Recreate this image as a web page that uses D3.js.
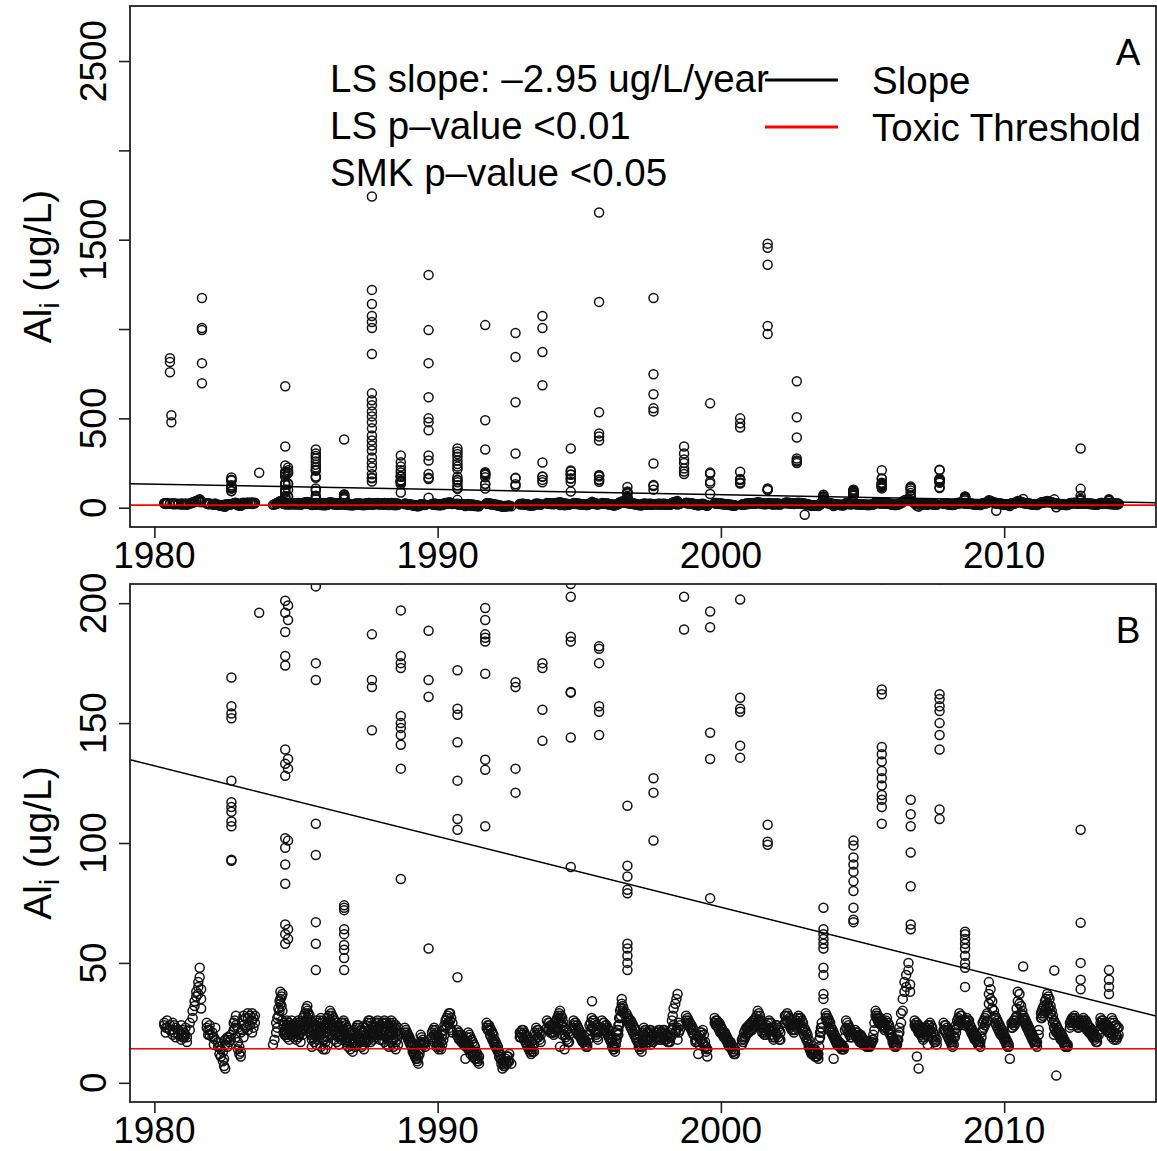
<!DOCTYPE html>
<html><head><meta charset="utf-8">
<script src="https://cdn.jsdelivr.net/npm/d3@7"></script>
<style>body{margin:0;background:#fff}svg{display:block}text{font-family:"Liberation Sans",Arial,Helvetica,sans-serif}</style>
</head><body>
<svg id="chart" width="1157" height="1151"></svg>
<script>
// ---------- data ----------
const xDomain = [1979.14, 2015.36];
const yDomainA = [-108, 2808];
const yDomainB = [-8, 208];
const xTicks = [1980, 1990, 2000, 2010];
const yTicksA = [0, 500, 1000, 1500, 2000, 2500];
const yTickLabelsA = ["0", "500", "", "1500", "", "2500"];
const yTicksB = [0, 50, 100, 150, 200];
const lsSlope = -2.95;      // ug/L per year
const lsAt1980 = 132.2;     // fitted value at 1980
const toxicThreshold = 14.2;
const legendText = ["LS slope: \u20132.95 ug/L/year", "LS p\u2013value <0.01", "SMK p\u2013value <0.05"];
const legendKeys = ["Slope", "Toxic Threshold"];
const panelLetters = ["A", "B"];

// baseline samples: [year, values...]
const baseline = [
[1980.35,25,24],[1980.45,26,23],[1980.55,24,22],[1980.65,25,22,20],[1980.75,23,19],[1980.85,22,20],[1980.95,24,20,18],[1981.05,21,19],[1981.15,19,17],
[1981.25,25,22],[1981.35,30,27],[1981.42,34,32],[1981.48,38,36],[1981.55,42,40,37],[1981.6,48,44],[1981.65,39,35,31],
[1981.85,25,23],[1981.95,24,22,20],[1982.05,21,19],[1982.15,23,18],[1982.25,17,15],[1982.35,14,11],[1982.42,9,13],[1982.5,6,16,18],[1982.58,18,19,15],
[1982.7,18,20],[1982.8,22,25],[1982.88,24,28,19],[1982.95,23,17,14],[1983.05,13,11,21],[1983.15,28,24,19],[1983.3,29,27,22],[1983.45,29,26,21],[1983.55,28,25],
[1984.19,16],[1984.3,21,25],[1984.38,28,31],[1984.45,33,35,38],[1984.52,37,30,26],
[1984.6,25,22,20],[1984.68,26,24,21,19],[1984.76,25,23,20,18],[1984.84,26,22,20],[1984.92,24,21,19],[1985.0,25,23,21,18],[1985.08,26,22,19],[1985.16,24,21,17],
[1985.24,27,23,20],[1985.32,29,25,22],[1985.4,32,30,27,24],[1985.48,28,25,21],[1985.56,25,22,18,15],[1985.64,24,20,17],[1985.72,26,22,19,16],[1985.8,25,21,18],
[1985.88,27,23,20,15],[1985.96,26,22,18,14],[1986.04,24,21,17,14],[1986.12,27,23,19,16],[1986.2,30,26,22],[1986.28,28,24,20],[1986.36,26,22,18],[1986.44,25,21,17],
[1986.52,23,20,16],[1986.6,25,21,18],[1986.68,26,22,19],[1986.76,24,20,17],[1986.84,22,19,15],[1986.92,21,18,14],[1987.0,20,17,13],[1987.08,22,18,15],
[1987.16,24,20,16],[1987.24,23,19,17],[1987.32,22,18,15],[1987.4,21,17,14],[1987.48,24,20,17],[1987.56,26,22,18],[1987.64,25,21,17],[1987.72,23,20,18],
[1987.8,25,21,19],[1987.88,26,23,20],[1987.96,24,21,18],[1988.04,25,22,18],[1988.12,26,22,17],[1988.2,25,21,16],[1988.28,24,19,15],
[1988.36,26,23,20,17],[1988.44,25,22,18,15],[1988.52,24,21,17,14],[1988.6,23,20,16],
[1988.84,23,21],[1988.92,21,19],[1989.0,19,17],[1989.08,17,15],[1989.16,14,12],[1989.24,12,10],[1989.32,8,11,14],[1989.4,14,17,20],[1989.48,18,16],[1989.56,17,15],
[1989.8,21,19],[1989.88,23,20,17],[1989.96,21,17,15],[1990.04,19,16,14],[1990.12,17,14],[1990.2,22,18],[1990.28,26,23],[1990.36,28,25],[1990.44,29,26,23],[1990.52,25,21],
[1990.68,22,20],[1990.76,21,18],[1990.84,20,17],[1990.92,18,16],[1990.98,10],[1991.0,17,15],[1991.08,21,16,14],[1991.16,19,14,12],[1991.24,17,13,11],[1991.32,15,12,10],[1991.4,12,9],[1991.46,8,11],
[1991.73,25,23],[1991.81,24,22],[1991.89,22,19],[1991.97,20,17],[1992.05,17,15],[1992.13,15,13],[1992.21,12,10],[1992.29,9,6],[1992.37,9,7],[1992.45,11,8],[1992.53,12,9],[1992.6,8],
[1992.9,21,19],[1992.98,22,20],[1993.06,21,18],[1993.14,19,16],[1993.22,17,14],[1993.3,14,12],[1993.4,16,13],[1993.48,23,20],[1993.56,22,19],[1993.64,20,17],
[1993.86,26,23],[1993.94,25,22],[1994.02,24,21],[1994.1,23,20],[1994.18,26,22],[1994.26,28,25],[1994.32,30,27,15],[1994.4,27,24,20],[1994.48,23,20,14],[1994.56,22,18],[1994.64,20,17],
[1994.8,26,24],[1994.88,25,22],[1994.96,23,20],[1995.04,21,19],[1995.12,19,17],[1995.2,18,16],[1995.28,16,15],[1995.36,24,20],[1995.44,27,23],[1995.52,26,22],[1995.6,24,20],[1995.66,21,18],
[1995.8,26,23],[1995.88,25,22],[1995.96,24,21],[1996.04,22,19],[1996.12,19,17],[1996.2,16,14],[1996.26,15,13],[1996.32,21,18],[1996.38,24,22,20],[1996.44,30,27],[1996.5,33,35],[1996.56,31,29],
[1996.66,29,27],[1996.74,27,25],[1996.82,26,23],[1996.9,24,21],[1996.98,22,19],[1997.06,19,17],[1997.14,16,14],[1997.2,13,15],
[1997.28,23,20,17],[1997.36,22,19,16],[1997.44,21,18],[1997.52,22,19,16],[1997.6,20,17],
[1997.72,21,18],[1997.8,22,19],[1997.88,21,18],[1997.96,22,19],[1998.04,21,18],[1998.12,20,17],[1998.2,19,17],
[1998.27,26,22],[1998.33,31,24],[1998.39,33,21],[1998.47,37,23,18],[1998.55,24,22],
[1998.77,28,26],[1998.86,26,24],[1998.96,24,22],[1999.04,22,20],
[1999.1,18,17],[1999.2,19,12],[1999.28,21,18],[1999.36,22,17],[1999.44,17,15],[1999.52,11,14],
[1999.78,27,25],[1999.86,26,24],[1999.94,25,22],[2000.02,23,21],[2000.1,21,19],[2000.18,20,18],[2000.26,18,16],[2000.34,17,15],[2000.42,15,13],[2000.5,12,14],
[2000.74,18,16],[2000.82,21,18],[2000.9,23,20],[2000.98,24,21],[2001.06,25,22],[2001.14,26,23],[2001.22,27,24],[2001.3,30,26],[2001.38,28,25],[2001.46,24,21],
[2001.54,22,20],[2001.62,24,21],[2001.7,26,23],[2001.78,25,20],[2001.86,22,18],[2001.94,24,21],[2002.02,23,19],[2002.1,21,18],
[2002.26,28,25],[2002.34,29,26],[2002.42,27,24],[2002.5,25,22],[2002.58,24,21],[2002.66,26,23],[2002.74,28,25],[2002.82,27,24],[2002.9,25,22],[2002.98,22,19],[2003.06,20,17],[2003.14,16,14],[2003.2,13,12],
[2003.28,14,12],[2003.36,13,11],[2003.44,12,10],[2003.5,21,19],[2003.56,25,23],[2003.98,10],
[2003.7,29,27],[2003.78,27,25],[2003.86,25,22],[2003.94,22,20],[2004.02,20,18],[2004.1,18,16],[2004.18,17,15],[2004.26,16,14],[2004.34,15,14],[2004.42,26,23],[2004.5,24,21],[2004.58,22,19],
[2004.74,22,20],[2004.82,21,19],[2004.9,20,17],[2004.98,19,17],[2005.06,18,16],[2005.14,17,15],[2005.22,16,15],[2005.3,17,16],[2005.38,20,18],
[2005.46,30,28],[2005.54,28,26],[2005.62,27,25],[2005.7,26,24],[2005.78,25,22],[2005.86,27,24],[2005.94,24,21],[2006.02,21,19],[2006.1,18,16],[2006.18,16,15],[2006.26,20,18],
[2006.36,29,25],[2006.42,35,30],[2006.48,42,38],[2006.54,45,40],[2006.62,50,47],[2006.68,41,38],
[2006.84,26,24],[2006.92,25,23,11],[2006.98,24,21,6],[2007.06,22,20],[2007.14,21,18],[2007.22,23,20],[2007.3,24,21,16],[2007.38,25,22],[2007.46,23,19],[2007.54,20,17],[2007.62,18,16],
[2007.86,25,22],[2007.94,24,21],[2008.02,22,19],[2008.1,20,17],[2008.18,17,15],[2008.26,22,19],[2008.34,26,23],[2008.42,29,26],[2008.5,28,25],
[2008.6,26,24],[2008.68,27,25],[2008.76,26,23],[2008.84,23,21],[2008.92,21,19],[2009.0,20,18],[2009.08,18,16],[2009.16,17,15],[2009.24,25,22],
[2009.32,27,24],[2009.4,29,26],[2009.46,37,33,42],[2009.52,39,35],[2009.58,34,31],[2009.64,30,27],[2009.72,27,24],[2009.8,25,22],[2009.88,23,20],[2009.96,21,19],[2010.04,19,17],[2010.12,17,15],[2010.2,10],
[2010.26,25,23],[2010.34,26,24],[2010.4,27,25],[2010.48,38,34],[2010.54,37,33],[2010.6,32,29],[2010.68,28,26],[2010.76,26,24],[2010.84,24,22],[2010.92,22,20],[2011.0,20,18],[2011.08,18,16],[2011.16,17,15],
[2011.3,29,27],[2011.36,31,28],[2011.44,34,30],[2011.52,37,33],[2011.6,35,31],[2011.68,30,27],[2011.76,26,23,20],[2011.84,24,21,3],[2011.92,22,20],[2012.0,21,18],[2012.08,19,17],[2012.16,17,15],[2012.24,16,15],
[2012.32,25,23],[2012.4,27,25],[2012.48,28,26],[2012.56,26,24],[2012.64,25,23],[2012.72,26,24],[2012.8,27,25],[2012.88,26,23],[2012.96,24,22],[2013.04,23,21],[2013.12,22,19],[2013.2,20,18],[2013.28,19,17],
[2013.4,27,25],[2013.48,26,24],[2013.56,25,23],[2013.64,24,22],[2013.72,23,21],[2013.8,27,22,19],[2013.88,25,21,18],[2013.96,24,20,18],[2014.04,23,20]
];

// extra baseline samples between the ones above: [year, values...]
const baselineMid = [
[1980.4,23,21],[1980.7,24,21],[1981.0,22,19],[1981.1,23,20],
[1981.9,22,20],[1982.1,19,16],[1982.3,15,12],[1982.46,10,7],[1982.64,17,19],[1982.84,23,26],[1983.0,15,12],[1983.1,26,22],[1983.22,27,23],[1983.38,28,24],[1983.5,27,23],
[1984.24,18],[1984.34,23,27],[1984.42,30,34],[1984.49,36,32],
[1984.56,24,21],[1984.64,23,20],[1984.72,25,22],[1984.8,24,21],[1984.88,23,20],[1984.96,24,22],[1985.04,24,21],[1985.12,25,20],[1985.2,25,22],[1985.28,28,24],[1985.36,31,26],[1985.44,29,23],
[1985.52,26,20],[1985.6,23,19],[1985.68,24,21],[1985.76,23,20],[1985.84,26,22],[1985.92,25,19],[1986.0,23,18],[1986.08,25,21],[1986.16,28,24],[1986.24,29,25],[1986.32,27,23],[1986.4,25,20],
[1986.48,24,19],[1986.56,24,19],[1986.64,25,20],[1986.72,25,21],[1986.8,23,18],[1986.88,21,17],[1986.96,20,16],[1987.04,21,16],[1987.12,23,19],[1987.2,24,18],[1987.28,22,17],[1987.36,21,16],
[1987.44,23,18],[1987.52,25,19],[1987.6,26,20],[1987.68,24,19],[1987.76,24,20],[1987.84,25,22],[1987.92,25,20],[1988.0,24,20],[1988.08,25,20],[1988.16,25,19],[1988.24,24,18],[1988.32,25,21],
[1988.4,24,20],[1988.48,23,19],[1988.56,22,18],
[1988.88,22,20],[1988.96,20,18],[1989.04,18,16],[1989.12,16,13],[1989.2,13,11],[1989.28,10,9],[1989.36,12,16],[1989.44,19,17],[1989.52,17,16],
[1989.84,22,18],[1989.92,22,19],[1990.0,20,16],[1990.08,18,15],[1990.16,20,16],[1990.24,24,20],[1990.32,27,24],[1990.4,29,25],[1990.48,27,22],
[1990.72,21,19],[1990.8,20,18],[1990.88,19,17],[1990.96,18,16],[1991.04,19,15],[1991.12,20,15],[1991.2,18,13],[1991.28,16,12],[1991.36,13,10],[1991.43,10,9],
[1991.77,24,22],[1991.85,23,20],[1991.93,21,18],[1992.01,18,16],[1992.09,16,14],[1992.17,13,11],[1992.25,10,8],[1992.33,8,7],[1992.41,10,8],[1992.49,11,9],
[1992.94,21,19],[1993.02,22,19],[1993.1,20,17],[1993.18,18,15],[1993.26,15,13],[1993.35,15,13],[1993.44,21,18],[1993.52,22,19],[1993.6,21,18],
[1993.9,25,22],[1993.98,24,21],[1994.06,24,21],[1994.14,25,21],[1994.22,27,23],[1994.29,29,26],[1994.36,28,25],[1994.44,25,22],[1994.52,22,19],[1994.6,21,17],
[1994.84,25,23],[1994.92,24,21],[1995.0,22,20],[1995.08,20,18],[1995.16,18,17],[1995.24,17,15],[1995.32,20,18],[1995.4,25,22],[1995.48,26,23],[1995.56,25,21],[1995.63,22,19],
[1995.84,25,22],[1995.92,24,22],[1996.0,23,20],[1996.08,20,18],[1996.16,18,15],[1996.23,15,14],[1996.29,18,16],[1996.35,22,20],[1996.41,27,24],[1996.47,31,28],[1996.53,32,30],
[1996.7,28,26],[1996.78,26,24],[1996.86,25,22],[1996.94,23,20],[1997.02,20,18],[1997.1,17,15],[1997.24,21,18],[1997.32,22,18],[1997.4,21,18],[1997.48,22,17],[1997.56,21,18],
[1997.76,21,19],[1997.84,22,18],[1997.92,21,19],[1998.0,22,18],[1998.08,20,18],[1998.16,19,17],[1998.24,22,19],[1998.3,28,23],[1998.43,35,22],[1998.51,25,21],
[1998.82,27,25],[1998.91,25,23],[1999.0,23,21],[1999.15,20,17],[1999.24,20,16],[1999.32,21,18],[1999.4,20,16],[1999.48,15,13],
[1999.82,26,24],[1999.9,25,23],[1999.98,24,21],[2000.06,22,20],[2000.14,21,19],[2000.22,19,17],[2000.3,17,15],[2000.38,16,14],[2000.46,13,12],
[2000.78,19,17],[2000.86,22,19],[2000.94,23,21],[2001.02,24,22],[2001.1,25,22],[2001.18,26,24],[2001.26,28,25],[2001.34,29,26],[2001.42,26,23],[2001.5,23,21],[2001.58,23,20],
[2001.66,25,22],[2001.74,25,22],[2001.82,23,19],[2001.9,23,19],[2001.98,24,20],[2002.06,22,18],
[2002.3,28,26],[2002.38,28,25],[2002.46,26,23],[2002.54,24,22],[2002.62,25,22],[2002.7,27,24],[2002.78,27,25],[2002.86,26,23],[2002.94,23,20],[2003.02,21,18],[2003.1,18,15],
[2003.17,14,13],[2003.24,13,12],[2003.32,14,11],[2003.4,12,11],[2003.47,18,15],[2003.53,23,21],
[2003.74,28,26],[2003.82,26,23],[2003.9,23,21],[2003.98,21,19],[2004.06,19,17],[2004.14,17,16],[2004.22,16,15],[2004.3,15,14],[2004.38,22,19],[2004.46,25,22],[2004.54,23,20],[2004.62,21,19],
[2004.78,21,19],[2004.86,20,18],[2004.94,20,17],[2005.02,18,16],[2005.1,17,16],[2005.18,16,15],[2005.26,16,15],[2005.34,18,17],[2005.42,25,22],
[2005.5,29,27],[2005.58,27,25],[2005.66,26,24],[2005.74,25,23],[2005.82,26,23],[2005.9,25,22],[2005.98,22,20],[2006.06,19,17],[2006.14,17,15],[2006.22,18,16],[2006.3,23,21],
[2006.88,25,23],[2006.95,24,22],[2007.02,23,21],[2007.1,21,19],[2007.18,22,19],[2007.26,23,20],[2007.34,24,22],[2007.42,24,21],[2007.5,21,18],[2007.58,19,17],
[2007.9,24,22],[2007.98,23,20],[2008.06,21,18],[2008.14,18,16],[2008.22,19,16],[2008.3,24,21],[2008.38,27,24],[2008.46,28,26],
[2008.64,26,24],[2008.72,26,24],[2008.8,24,22],[2008.88,22,20],[2008.96,20,18],[2009.04,19,17],[2009.12,17,16],[2009.2,21,19],[2009.28,26,23],[2009.36,28,25],
[2009.68,28,25],[2009.76,26,23],[2009.84,24,21],[2009.92,22,20],[2010.0,20,18],[2010.08,18,16],[2010.16,16,15],
[2010.3,25,23],[2010.37,26,24],[2010.44,31,28],[2010.64,30,27],[2010.72,27,25],[2010.8,25,23],[2010.88,23,21],[2010.96,21,19],[2011.04,19,17],[2011.12,17,16],[2011.22,22,20],
[2011.33,30,27],[2011.4,32,29],[2011.48,35,31],[2011.56,36,32],[2011.64,32,29],[2011.72,28,25],[2011.8,25,22],[2011.88,23,21],[2011.96,21,19],[2012.04,20,18],[2012.12,18,16],[2012.2,16,15],
[2012.36,26,24],[2012.44,27,25],[2012.52,27,25],[2012.6,25,23],[2012.68,25,24],[2012.76,26,24],[2012.84,26,24],[2012.92,25,22],[2013.0,23,21],[2013.08,22,20],[2013.16,21,19],[2013.24,19,17],[2013.34,22,20],
[2013.44,26,24],[2013.52,25,23],[2013.6,24,22],[2013.68,23,21],[2013.76,25,21],[2013.84,26,20],[2013.92,24,19],[2014.0,23,19]
];

// high-flow episodes: [year, values...]
const episodes = [
[1980.55,837,815,758],[1980.6,517,478],
[1981.68,1174,1006,994,809,697],
[1982.72,169,157,154,152,126,117,115,113,109,107,93,92.6],
[1983.7,196],
[1984.62,680,343,236,201,196,188,178,174,139,133,128,102,98,91,83,66,62,58],
[1984.72,225,210,199,193,135,131,101,64,60],
[1985.7,326,303,290,275,258,240,225,212,207,175,168,108,95,67,58,47],
[1986.7,382,74,73,72,64,62,57.5,55.5,52,47],
[1987.68,1742,1219,1140,1073,1039,1006,860,640,601,573,539,511,478,444,404,376,348,320,281,250,225,187,168,165,147],
[1988.7,292,255,230,210,197,178,175,173,153,150,148,145,141,131,85],
[1989.68,1303,994,809,618,500,478,433,292,264,188.5,168,161,56],
[1990.7,331,315,300,285,264,245,230,215,172,156,153.5,142,126,110,105.5,44],
[1991.68,1022,489,326,198,193,187,185.6,184,170.6,134.7,130.5,107],
[1992.75,978,843,590,303,167,165,131,121],
[1993.7,1073,1006,871,685,253,175,173,155.6,142.6],
[1994.7,331,208,202.7,186,184,163,162.7,144,90],
[1995.45,34],
[1995.7,1652,1152,534,416,399,376,182,181,175,157,154.7,145],
[1996.7,115.5,90.5,86,80.5,79,58,56,53,50,47],
[1997.62,1174,747,635,556,539,247,127,121,101],
[1998.7,343,303,270,250,219,202.7,189],
[1999.62,584,196.5,190,146,135,77],
[2000.68,500,472,449,201.5,160.6,156,154.7,140.6,135.6],
[2001.65,1478,1455,1360,1017,972,107.6,100.5,99.3],
[2002.68,708,506,393,275,264,258,250],
[2002.96,-39],
[2003.62,73,64,62,60,58,56,48,45,37,35],
[2004.68,101,99,94,91,88,84,80,73,68,67],
[2005.68,210,164,162,140,137,134,130,127,124,120,118,115,108],
[2006.7,118,112,107,96,82,66,64],
[2007.72,213,210,162,160,157,155,150,145,139,114,110],
[2008.62,63,62,60,58,56,53,50,48,40],
[2009.72,-17],
[2010.67,48.5],
[2011.77,46.8],
[2012.7,331,105.5,66.7,50,43,39],
[2013.7,47,43,40,37]
];

// ---------- drawing ----------
const FONT = 37;
const LEGEND_FONT = 38.5;
const svg = d3.select("#chart");
const points = [];
[baseline, baselineMid, episodes].forEach(set => set.forEach(r => r.slice(1).forEach(v => points.push({t: r[0], v}))));

const x = d3.scaleLinear().domain(xDomain).range([130, 1156]);
const panels = [
  {y: d3.scaleLinear().domain(yDomainA).range([527, 6]), ticks: yTicksA, labels: yTickLabelsA, top: 6, bottom: 527, letter: panelLetters[0], legend: true},
  {y: d3.scaleLinear().domain(yDomainB).range([1102, 584]), ticks: yTicksB, labels: yTicksB.map(String), top: 584, bottom: 1102, letter: panelLetters[1], legend: false}
];

panels.forEach((p, i) => {
  const g = svg.append("g");
  const clipId = "clip" + i;
  svg.append("clipPath").attr("id", clipId).append("rect")
    .attr("x", 130).attr("y", p.top).attr("width", 1026).attr("height", p.bottom - p.top);
  const plot = g.append("g").attr("clip-path", `url(#${clipId})`);

  plot.selectAll("circle").data(points).join("circle")
    .attr("cx", d => x(d.t)).attr("cy", d => p.y(d.v)).attr("r", 4.5)
    .attr("fill", "none").attr("stroke", "#111").attr("stroke-width", 1.5);

  // LS trend line
  plot.append("line")
    .attr("x1", x(xDomain[0])).attr("y1", p.y(lsAt1980 + lsSlope * (xDomain[0] - 1980)))
    .attr("x2", x(xDomain[1])).attr("y2", p.y(lsAt1980 + lsSlope * (xDomain[1] - 1980)))
    .attr("stroke", "#000").attr("stroke-width", 1.5);
  // toxic threshold
  plot.append("line")
    .attr("x1", x(xDomain[0])).attr("x2", x(xDomain[1]))
    .attr("y1", p.y(toxicThreshold)).attr("y2", p.y(toxicThreshold))
    .attr("stroke", "#ff0000").attr("stroke-width", 1.6);

  // box
  g.append("rect").attr("x", 130).attr("y", p.top).attr("width", 1026).attr("height", p.bottom - p.top)
    .attr("fill", "none").attr("stroke", "#222").attr("stroke-width", 1.8);

  // axes (ticks via d3 axes)
  const xa = g.append("g").attr("transform", `translate(0,${p.bottom})`)
    .call(d3.axisBottom(x).tickValues(xTicks).tickSize(11).tickFormat(""));
  xa.select(".domain").remove();
  xa.selectAll("line").attr("stroke", "#222").attr("stroke-width", 1.6);
  g.selectAll(".xl").data(xTicks).join("text")
    .attr("x", d => x(d)).attr("y", p.bottom + 41).attr("text-anchor", "middle")
    .attr("font-size", FONT).attr("fill", "#000").text(d => d);

  const ya = g.append("g").attr("transform", "translate(130,0)")
    .call(d3.axisLeft(p.y).tickValues(p.ticks).tickSize(11).tickFormat(""));
  ya.select(".domain").remove();
  ya.selectAll("line").attr("stroke", "#222").attr("stroke-width", 1.6);
  g.selectAll(".yl").data(p.ticks.map((t, k) => ({t, s: p.labels[k]}))).join("text")
    .attr("transform", d => `translate(106,${p.y(d.t)}) rotate(-90)`)
    .attr("text-anchor", "middle").attr("font-size", FONT).attr("fill", "#000").text(d => d.s);

  // y title
  const yt = g.append("text")
    .attr("transform", `translate(51,${(p.top + p.bottom) / 2}) rotate(-90)`)
    .attr("text-anchor", "middle").attr("font-size", 39).attr("fill", "#000");
  yt.append("tspan").text("Al");
  yt.append("tspan").attr("font-size", 27).attr("dy", 8).text("i");
  yt.append("tspan").attr("dy", -8).text(" (ug/L)");

  // panel letter
  g.append("text").attr("x", 1128).attr("y", p.top + 59).attr("text-anchor", "middle")
    .attr("font-size", FONT).attr("fill", "#000").text(p.letter);

  if (p.legend) {
    legendText.forEach((s, k) => g.append("text").attr("x", 330).attr("y", 92 + 47 * k)
      .attr("font-size", LEGEND_FONT).attr("fill", "#000").text(s));
    const colors = ["#000", "#ff0000"];
    legendKeys.forEach((s, k) => {
      g.append("line").attr("x1", 765).attr("x2", 838).attr("y1", 80 + 47 * k).attr("y2", 80 + 47 * k)
        .attr("stroke", colors[k]).attr("stroke-width", 3);
      g.append("text").attr("x", 872).attr("y", 94 + 47 * k).attr("font-size", LEGEND_FONT).attr("fill", "#000").text(s);
    });
  }
});
</script>
</body></html>
